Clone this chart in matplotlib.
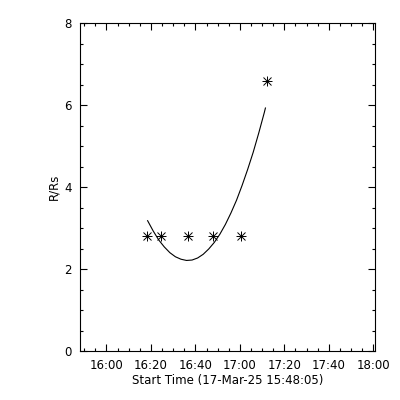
import matplotlib
matplotlib.use("Agg")
import matplotlib.pyplot as plt
from matplotlib.ticker import MultipleLocator, FuncFormatter

# time in minutes after 16:00 (17-Mar-25)
t_obs = [18.4, 24.4, 36.5, 47.9, 60.3, 72.4]
r_obs = [2.8, 2.8, 2.8, 2.8, 2.8, 6.6]

# fitted curve
t_fit = [18.5, 21.0, 23.5, 26.0, 28.5, 31.0, 33.5, 36.0, 38.5, 41.0, 43.5, 46.0,
         48.5, 51.0, 53.5, 56.0, 58.5, 61.0, 63.5, 66.0, 68.5, 71.0, 71.5]
r_fit = [3.18, 2.93, 2.71, 2.54, 2.40, 2.30, 2.24, 2.21, 2.22, 2.27, 2.36, 2.49,
         2.65, 2.85, 3.09, 3.37, 3.68, 4.04, 4.43, 4.85, 5.32, 5.82, 5.93]

t_start = -11.92  # 15:48:05
t_end = 120.8

def hhmm(v, pos):
    m = int(round(v)) + 16 * 60
    return "%02d:%02d" % (m // 60, m % 60)

plt.rcParams['font.family'] = 'DejaVu Sans'
fig = plt.figure(figsize=(4, 4), dpi=100)
ax = fig.add_axes([0.2, 0.1225, 0.7375, 0.8195])

ax.plot(t_fit, r_fit, color='black', lw=0.8)
ax.plot(t_obs, r_obs, ls='none', marker='+', ms=7.5, mew=0.7, color='black')
ax.plot(t_obs, r_obs, ls='none', marker='x', ms=5.5, mew=0.7, color='black')

ax.set_xlim(t_start, t_end)
ax.set_ylim(0, 8)
ax.xaxis.set_major_locator(MultipleLocator(20))
ax.xaxis.set_minor_locator(MultipleLocator(5))
ax.xaxis.set_major_formatter(FuncFormatter(hhmm))
ax.yaxis.set_major_locator(MultipleLocator(2))
ax.yaxis.set_minor_locator(MultipleLocator(0.5))

ax.tick_params(which='both', direction='in', top=True, right=True,
               width=0.8, labelsize=8.5, pad=6)
ax.tick_params(which='major', length=5)
ax.tick_params(which='minor', length=2.5)
for s in ax.spines.values():
    s.set_linewidth(0.8)

ax.set_xlabel("Start Time (17-Mar-25 15:48:05)", fontsize=8.5, labelpad=1)
ax.set_ylabel("R/Rs", fontsize=8.5, labelpad=3)

fig.savefig("out.png", dpi=100)
